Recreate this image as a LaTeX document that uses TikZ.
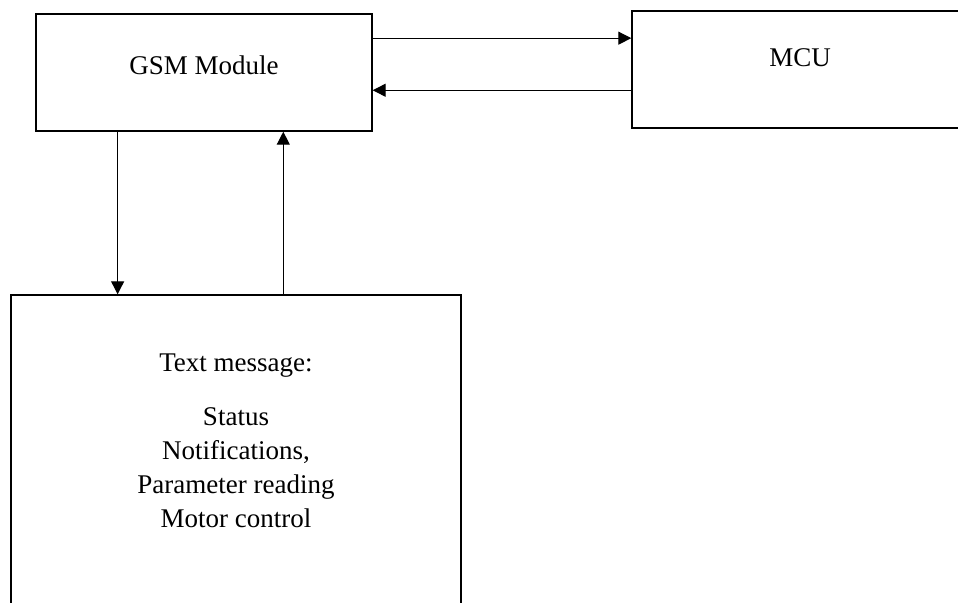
\documentclass[tikz,border=0pt]{standalone}
\usepackage{fontspec}
\setmainfont{Liberation Serif}
\usetikzlibrary{arrows.meta,calc}
\tikzset{
  blk/.style={draw, line width=0.7pt, inner sep=0pt},
  txt/.style={font=\fontsize{13.5}{17}\selectfont, align=center, inner sep=0pt},
  arr/.style={line width=0.6pt, -{Triangle[length=6.5pt,width=6.5pt]}}
}
\begin{document}
\begin{tikzpicture}[x=0.5pt,y=-0.5pt]
\clip (0,0) rectangle (958,603);
\fill[white] (0,0) rectangle (958,603);
% boxes
\node[blk, minimum width=168pt, minimum height=58.5pt] (gsm) at (204,72.5) {};
\node[blk, minimum width=184pt, minimum height=58.5pt] (mcu) at (816,69.5) {};
\node[blk, minimum width=225pt, minimum height=172.5pt] (msg) at (236,467.5) {};
\node[txt] (gsmtxt) at (204,65) {GSM Module};
\node[txt] (mcutxt) at (800,58) {MCU};
\node[txt] (msgtxt) at (236,441) {Text message:\\[10pt] Status\\ Notifications,\\ Parameter reading\\ Motor control};
% connectors
\path ($(gsm.north east)!0.21!(gsm.south east)$) coordinate (g1)
      ($(gsm.north east)!0.65!(gsm.south east)$) coordinate (g2)
      ($(gsm.south west)!0.244!(gsm.south east)$) coordinate (g3)
      ($(gsm.south west)!0.735!(gsm.south east)$) coordinate (g4);
\draw[arr] (g1) -- (g1 -| mcu.west);
\draw[arr] (g2 -| mcu.west) -- (g2);
\draw[arr] (g3) -- (g3 |- msg.north);
\draw[arr] (g4 |- msg.north) -- (g4);
\end{tikzpicture}
\end{document}
